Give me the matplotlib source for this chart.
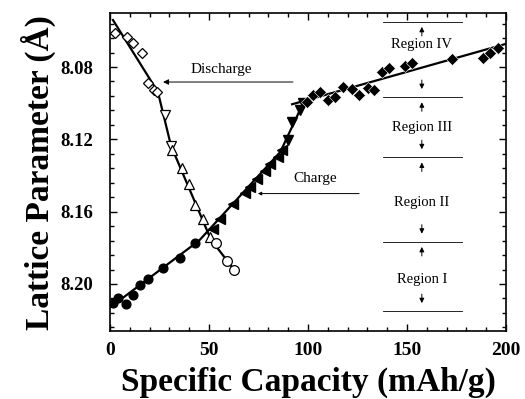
import matplotlib
matplotlib.use("Agg")
import matplotlib.pyplot as plt
from matplotlib.ticker import MultipleLocator, AutoMinorLocator

plt.rcParams["font.family"] = ["Liberation Serif", "DejaVu Serif"]

# ---------------- data ---------------- #

# discharge (open symbols)
dis_diamond_x = [2.5, 8.6, 11.6, 16.2, 19.2, 22.2, 23.7]
dis_diamond_y = [8.0611, 8.0633, 8.0667, 8.0722, 8.0889, 8.0928, 8.0939]
dis_vtri_x = [27.8, 31.0]
dis_vtri_y = [8.1067, 8.1239]
dis_utri_x = [31.2, 36.2, 39.8, 43.0, 47.0, 50.5]
dis_utri_y = [8.1261, 8.1356, 8.1445, 8.1562, 8.1640, 8.1740]
dis_circle_x = [53.5, 59.1, 62.6]
dis_circle_y = [8.1773, 8.1873, 8.1923]

# charge (filled symbols)
chg_circle_x = [1.5, 4.0, 8.1, 11.6, 15.2, 19.2, 26.8, 35.4, 42.9]
chg_circle_y = [8.2107, 8.2079, 8.2112, 8.2062, 8.2007, 8.1973, 8.1912, 8.1856, 8.1773]
chg_ltri_x = [52.0, 55.6, 62.1, 68.2, 70.7, 74.2, 78.3, 80.8, 84.8, 86.9]
chg_ltri_y = [8.1695, 8.1640, 8.1556, 8.1495, 8.1462, 8.1417, 8.1373, 8.1334, 8.1295, 8.1261]
chg_vtri_x = [89.9, 91.9, 96.0, 97.5]
chg_vtri_y = [8.1206, 8.1106, 8.1039, 8.1000]
chg_diamond_x = [99.5, 102.5, 106.1, 110.1, 113.6, 117.7, 122.2, 125.8, 130.3,
                 133.3, 137.4, 140.9, 149.0, 152.5, 172.7, 188.4, 191.9, 196.0]
chg_diamond_y = [8.0995, 8.0956, 8.0939, 8.0983, 8.0967, 8.0911, 8.0922, 8.0956, 8.0917,
                 8.0928, 8.0828, 8.0806, 8.0794, 8.0778, 8.0756, 8.0750, 8.0722, 8.0694]

# fitted lines
dis_fit_x = [1.5, 24.2, 30.8, 51.0, 63.6]
dis_fit_y = [8.054, 8.0938, 8.1235, 8.1755, 8.1934]
chg_fit_x = [0.0, 45.0, 86.0, 98.0]
chg_fit_y = [8.213, 8.176, 8.127, 8.099]
chg_fit2_x = [92.0, 200.0]
chg_fit2_y = [8.1006, 8.0672]

# region boundaries and labels
region_bounds = [8.055, 8.0967, 8.130, 8.1767, 8.2151]
region_labels = ["Region IV", "Region III", "Region II", "Region I"]
region_label_y = [8.0678, 8.1133, 8.1550, 8.1973]
region_x = [138, 178]
region_arrow_x = 157.5

# ---------------- plot ---------------- #

fig = plt.figure(figsize=(5.25, 3.99), dpi=100)
ax = fig.add_axes([0.2095, 0.1704, 0.7543, 0.7958])

ax.plot(dis_fit_x, dis_fit_y, color="black", lw=1.6, zorder=2)
ax.plot(chg_fit_x, chg_fit_y, color="black", lw=1.6, zorder=2)
ax.plot(chg_fit2_x, chg_fit2_y, color="black", lw=1.6, zorder=2)

open_kw = dict(ls="none", mfc="white", mec="black", mew=0.9, zorder=3)
ax.plot(dis_diamond_x, dis_diamond_y, marker="D", ms=5.5, **open_kw)
ax.plot(dis_vtri_x, dis_vtri_y, marker="v", ms=7.5, **open_kw)
ax.plot(dis_utri_x, dis_utri_y, marker="^", ms=7.5, **open_kw)
ax.plot(dis_circle_x, dis_circle_y, marker="o", ms=7, **open_kw)

fill_kw = dict(ls="none", mfc="black", mec="black", zorder=3)
ax.plot(chg_circle_x, chg_circle_y, marker="o", ms=6.3, **fill_kw)
ax.plot(chg_ltri_x, chg_ltri_y, marker="<", ms=7, **fill_kw)
ax.plot(chg_vtri_x, chg_vtri_y, marker="v", ms=7, **fill_kw)
ax.plot(chg_diamond_x, chg_diamond_y, marker="D", ms=6.3, ls="none", mfc="black",
        mec="white", mew=0.4, zorder=3)

# annotations
ax.annotate("", xy=(26.8, 8.0883), xytext=(92.4, 8.0883),
            arrowprops=dict(arrowstyle="-|>", color="black", lw=0.7,
                            mutation_scale=8, shrinkA=0, shrinkB=0))
ax.text(56, 8.0815, "Discharge", ha="center", va="center", fontsize=11)
ax.annotate("", xy=(74.7, 8.150), xytext=(125.8, 8.150),
            arrowprops=dict(arrowstyle="-|>", color="black", lw=0.7,
                            mutation_scale=5, shrinkA=0, shrinkB=0))
ax.text(92.4, 8.1415, "Charge", ha="left", va="center", fontsize=11)

for b in region_bounds:
    ax.plot(region_x, [b, b], color="black", lw=0.6)

arrow_kw = dict(arrowstyle="-|>", color="black", lw=0.7, mutation_scale=7,
                shrinkA=0, shrinkB=0)
for i, label in enumerate(region_labels):
    top, bottom = region_bounds[i], region_bounds[i + 1]
    ax.text(region_arrow_x, region_label_y[i], label, ha="center", va="center",
            fontsize=10.5)
    ax.annotate("", xy=(region_arrow_x, top + 0.0028), xytext=(region_arrow_x, top + 0.0078),
                arrowprops=arrow_kw)
    ax.annotate("", xy=(region_arrow_x, bottom - 0.0045), xytext=(region_arrow_x, bottom - 0.0095),
                arrowprops=arrow_kw)

ax.set_xlim(0, 200)
ax.set_ylim(8.226, 8.0504)
ax.xaxis.set_major_locator(MultipleLocator(50))
ax.xaxis.set_minor_locator(MultipleLocator(10))
ax.yaxis.set_major_locator(MultipleLocator(0.04))
ax.yaxis.set_minor_locator(AutoMinorLocator(5))
ax.yaxis.set_major_formatter(plt.FormatStrFormatter("%.2f"))

ax.tick_params(which="both", direction="in", top=True, right=True, width=1)
ax.tick_params(which="major", length=5)
ax.tick_params(which="minor", length=3)
ax.tick_params(axis="x", labelsize=14, pad=8)
ax.tick_params(axis="y", labelsize=13.5, pad=12)
for lab in ax.get_xticklabels() + ax.get_yticklabels():
    lab.set_fontweight("bold")
for s in ax.spines.values():
    s.set_linewidth(1.2)

ax.set_xlabel("Specific Capacity (mAh/g)", fontsize=24, fontweight="bold", va="center")
ax.set_ylabel("Lattice Parameter (Å)", fontsize=24, fontweight="bold", va="center")
ax.xaxis.set_label_coords(0.5, -0.161)
ax.yaxis.set_label_coords(-0.18, 0.5)

fig.savefig("out.png", dpi=100)
